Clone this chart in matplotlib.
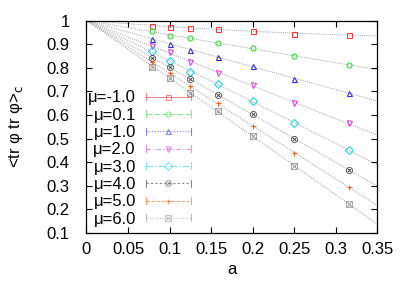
import matplotlib
matplotlib.use("Agg")
import matplotlib.pyplot as plt
import numpy as np
from matplotlib.lines import Line2D
from matplotlib.legend_handler import HandlerLine2D
from matplotlib.ticker import FormatStrFormatter

plt.rcParams['font.family'] = ['Liberation Sans', 'DejaVu Sans']
plt.rcParams['font.size'] = 12

# lattice spacings (shared by all series)
a = [0.079, 0.1, 0.125, 0.158, 0.2, 0.25, 0.316]

labels = ["μ=-1.0", "μ=0.1", "μ=1.0", "μ=2.0", "μ=3.0", "μ=4.0", "μ=5.0", "μ=6.0"]
values = [
    [0.977, 0.974, 0.970, 0.964, 0.956, 0.943, 0.939],
    [0.956, 0.934, 0.926, 0.903, 0.882, 0.851, 0.811],
    [0.923, 0.900, 0.876, 0.845, 0.808, 0.752, 0.692],
    [0.892, 0.865, 0.825, 0.779, 0.725, 0.649, 0.564],
    [0.871, 0.828, 0.783, 0.730, 0.659, 0.564, 0.451],
    [0.840, 0.803, 0.752, 0.686, 0.604, 0.498, 0.367],
    [0.823, 0.776, 0.722, 0.649, 0.553, 0.440, 0.293],
    [0.804, 0.755, 0.694, 0.617, 0.511, 0.383, 0.222],
]
colors = ['#f03c3c', '#3cdc3c', '#3030e0', '#e040e0', '#20d8e0', '#404040', '#ff6020', '#909090']
markers = ['s', 'o', '^', 'v', 'D', r'$\otimes$', '+', r'$\boxtimes$']
dashes = ['-', (0, (5, 2)), (0, (1, 1.5)), (0, (4, 2, 1, 2)), (0, (6, 2, 1, 2)),
          (0, (2, 2)), (0, (3, 1.5)), (0, (1, 2))]


class CapHandler(HandlerLine2D):
    # key sample like gnuplot errorbars: line with end caps
    def create_artists(self, legend, orig_handle, xdescent, ydescent, width, height, fontsize, trans):
        artists = super().create_artists(legend, orig_handle, xdescent, ydescent, width, height, fontsize, trans)
        y = height / 2 - ydescent
        for x in (-xdescent, -xdescent + width):
            cap = Line2D([x, x], [y - 2.5, y + 2.5], color=orig_handle.get_color(), lw=0.8, alpha=0.6)
            cap.set_transform(trans)
            artists.append(cap)
        return artists


def marker_style(m, c):
    if m.startswith('$'):
        return dict(marker=m, mfc=c, mec=c, ms=5, mew=0)
    return dict(marker=m, mfc='none', mec=c, ms=3.6, mew=0.8)


fig = plt.figure(figsize=(4.07, 2.85), dpi=100)
ax = fig.add_axes([0.2125, 0.1825, 0.715, 0.7455])

a_arr = np.array(a)
xs = np.linspace(0, 0.35, 200)
handles = []
for lab, y, c, m, ls in zip(labels, values, colors, markers, dashes):
    y = np.array(y)
    # fit 1 - y = p*a + q*a^2
    A = np.vstack([a_arr, a_arr**2]).T
    p, q = np.linalg.lstsq(A, 1 - y, rcond=None)[0]
    ax.plot(xs, 1 - p*xs - q*xs**2, color='#a0a0a0', lw=0.7, ls=(0, (1, 1.2)), zorder=1)
    ax.plot(a_arr, y, ls='none', color=c, zorder=3, **marker_style(m, c))
    handles.append(Line2D([], [], color=c, ls=ls, lw=0.8, alpha=0.6, label=lab,
                          **marker_style(m, c)))

ax.legend(handles=handles, loc='center left', bbox_to_anchor=(0.005, 0.35), frameon=False,
          markerfirst=False, handlelength=2.7, handletextpad=0.6, labelspacing=0.14,
          borderpad=0, borderaxespad=0, numpoints=1,
          handler_map={Line2D: CapHandler()})

ax.set_xlim(0, 0.35)
ax.set_ylim(0.1, 1.0)
ax.set_xticks(np.arange(0, 0.351, 0.05))
ax.set_yticks(np.arange(0.1, 1.001, 0.1))
ax.xaxis.set_major_formatter(FormatStrFormatter('%g'))
ax.yaxis.set_major_formatter(FormatStrFormatter('%g'))
ax.tick_params(direction='in', length=4, width=0.8, top=True, right=True)
ax.tick_params(axis='x', pad=6.5)
ax.tick_params(axis='y', pad=12)
for s in ax.spines.values():
    s.set_linewidth(0.9)

ax.set_xlabel('a')
ax.xaxis.set_label_coords(0.5, -0.135)
ax.set_ylabel(r'<tr φ tr φ>$_{\rm c}$')
ax.yaxis.set_label_coords(-0.21, 0.5)

fig.savefig('out.png', dpi=100)
